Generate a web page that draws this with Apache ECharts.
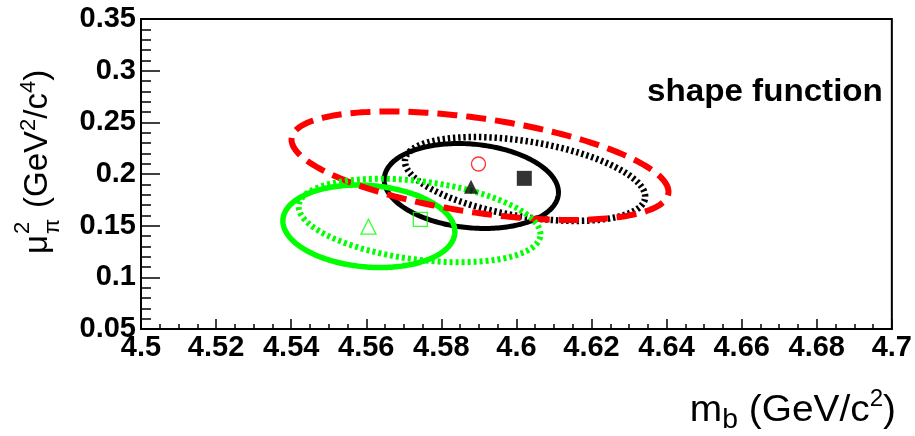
<!DOCTYPE html>
<html>
<head>
<meta charset="utf-8">
<script src="https://cdn.jsdelivr.net/npm/echarts@6.0.0/dist/echarts.min.js"></script>
<style>
html,body{margin:0;padding:0;background:#ffffff;}
#chart{width:915px;height:436px;}
</style>
</head>
<body>
<div id="chart"></div>
<script>
// ---------- data ----------
const xTickLabels = ['4.5','4.52','4.54','4.56','4.58','4.6','4.62','4.64','4.66','4.68','4.7'];
const yTickLabels = ['0.05','0.1','0.15','0.2','0.25','0.3','0.35'];

// error ellipses: centre, sigma_x, sigma_y, correlation
const ellipseNames   = ['red dashed', 'black solid', 'black dotted', 'green solid', 'green dotted'];
const ellipseCenterX = [4.5903, 4.5880, 4.6023, 4.5607, 4.5742];
const ellipseCenterY = [0.2080, 0.1884, 0.1952, 0.1494, 0.1550];
const ellipseSigmaX  = [0.0502, 0.0232, 0.0320, 0.0229, 0.0322];
const ellipseSigmaY  = [0.0525, 0.0411, 0.0406, 0.0399, 0.0404];
const ellipseRho     = [-0.48, -0.15, -0.42, -0.13, -0.33];

// central-value markers
const markerNames = ['red circle', 'black triangle', 'black square', 'green triangle', 'green square'];
const markerX = [4.5899, 4.5879, 4.6021, 4.5606, 4.5744];
const markerY = [0.2097, 0.1877, 0.1958, 0.1490, 0.1561];

// ---------- styles ----------
const ellipseColor = ['#ff0000', '#000000', '#000000', '#00ff00', '#00ff00'];
const ellipseWidth = [6, 5, 6.5, 5.5, 6];
const ellipseDash  = [[20, 9], null, [2.4, 2.8], null, [3, 3]];
const ellipseOrder = [1, 2, 3, 0, 4]; // drawing order indices

const markerSymbol = ['circle', 'triangle', 'rect', 'triangle', 'rect'];
const markerSize   = [14, 14, 15, 15, 14];
const markerFilled = [false, true, true, false, false];
const markerColor  = ['#ff0000', '#000000', '#000000', '#00ff00', '#00ff00'];

const FONT = '"Liberation Sans", Arial, Helvetica, sans-serif';

function fmt(v) {
  return String(parseFloat(Number(v).toFixed(3)));
}

const series = [];
ellipseOrder.forEach(function (i) {
  series.push({
    type: 'custom',
    name: ellipseNames[i],
    silent: true,
    animation: false,
    clip: false,
    data: [[ellipseCenterX[i], ellipseCenterY[i], ellipseSigmaX[i], ellipseSigmaY[i], ellipseRho[i]]],
    encode: { x: 0, y: 1 },
    renderItem: function (params, api) {
      const cx = api.value(0), cy = api.value(1), sx = api.value(2), sy = api.value(3), r = api.value(4);
      const c = Math.sqrt(1 - r * r);
      const pts = [];
      const N = 240;
      for (let k = 0; k < N; k++) {
        const t = 2 * Math.PI * k / N;
        pts.push(api.coord([cx + sx * Math.cos(t), cy + sy * (r * Math.cos(t) + c * Math.sin(t))]));
      }
      return {
        type: 'polygon',
        shape: { points: pts },
        style: {
          fill: 'none',
          stroke: ellipseColor[i],
          lineWidth: ellipseWidth[i],
          lineDash: ellipseDash[i] || null,
          lineCap: 'butt'
        }
      };
    }
  });
});

markerX.forEach(function (x, i) {
  series.push({
    type: 'scatter',
    name: markerNames[i],
    silent: true,
    animation: false,
    symbol: markerSymbol[i],
    symbolSize: markerSize[i],
    z: 5,
    itemStyle: markerFilled[i]
      ? { color: markerColor[i] }
      : { color: 'rgba(0,0,0,0)', borderColor: markerColor[i], borderWidth: 1.3 },
    data: [[x, markerY[i]]]
  });
});

const axisCommon = {
  type: 'value',
  axisLine: { show: true, onZero: false, lineStyle: { color: '#000', width: 2 } },
  splitLine: { show: false },
  axisLabel: {
    color: '#000', fontFamily: FONT, fontWeight: 'bold', fontSize: 29,
    showMinLabel: true, showMaxLabel: true, hideOverlap: false
  }
};

const option = {
  backgroundColor: '#ffffff',
  animation: false,
  grid: { left: 141, right: 22, top: 19, bottom: 107, show: true, borderColor: '#000', borderWidth: 2, backgroundColor: 'transparent' },
  xAxis: Object.assign({}, axisCommon, {
    min: 4.5, max: 4.7, interval: 0.02,
    axisTick: { show: true, inside: true, length: 10, lineStyle: { color: '#000', width: 1.5 } },
    minorTick: { show: true, splitNumber: 4, length: 5, lineStyle: { color: '#000', width: 1.5 } },
    axisLabel: Object.assign({}, axisCommon.axisLabel, {
      margin: 4,
      formatter: function (v) { const s = fmt(v); return xTickLabels.indexOf(s) >= 0 ? s : ''; }
    })
  }),
  yAxis: Object.assign({}, axisCommon, {
    min: 0.05, max: 0.35, interval: 0.05,
    axisTick: { show: true, inside: true, length: 19, lineStyle: { color: '#000', width: 1.5 } },
    minorTick: { show: true, splitNumber: 5, length: 10, lineStyle: { color: '#000', width: 1.5 } },
    axisLabel: Object.assign({}, axisCommon.axisLabel, {
      margin: 5,
      formatter: function (v) { const s = fmt(v); return yTickLabels.indexOf(s) >= 0 ? s : ''; }
    })
  }),
  graphic: [
    {
      type: 'text', x: 647, y: 92, scaleX: 1.07, silent: true,
      style: { text: 'shape function', fill: '#000', font: 'bold 31px ' + FONT, align: 'left', verticalAlign: 'middle' }
    },
    {
      type: 'text', silent: true, x: 896, y: 411, scaleX: 1.05,
      style: {
        text: '{m|m}{sub|b}{t| (GeV/c}{sup|2}{t|)}',
        align: 'right', verticalAlign: 'middle',
        rich: {
          m:   { fontFamily: FONT, fontSize: 37, lineHeight: 46, fill: '#000', color: '#000' },
          t:   { fontFamily: FONT, fontSize: 37, lineHeight: 46, fill: '#000', color: '#000' },
          sub: { fontFamily: FONT, fontSize: 27, lineHeight: 27, verticalAlign: 'bottom', fill: '#000', color: '#000' },
          sup: { fontFamily: FONT, fontSize: 23, lineHeight: 23, verticalAlign: 'top', fill: '#000', color: '#000' }
        }
      }
    },
    {
      type: 'group', x: 49, y: 254, rotation: Math.PI / 2, silent: true,
      children: [
        { type: 'text', x: 0, y: -11, style: { text: 'μ', fill: '#000', font: '33px ' + FONT, align: 'left', verticalAlign: 'middle' } },
        { type: 'text', x: 20, y: -26, style: { text: '2', fill: '#000', font: '22px ' + FONT, align: 'left', verticalAlign: 'middle' } },
        { type: 'text', x: 20, y: 4, style: { text: 'π', fill: '#000', font: '22px ' + FONT, align: 'left', verticalAlign: 'middle' } },
        {
          type: 'text', x: 46, y: -11,
          style: {
            text: '{t|(GeV}{sup|2}{t|/c}{sup|4}{t|)}',
            align: 'left', verticalAlign: 'middle',
            rich: {
              t:   { fontFamily: FONT, fontSize: 33, lineHeight: 41, fill: '#000', color: '#000' },
              sup: { fontFamily: FONT, fontSize: 22, lineHeight: 22, verticalAlign: 'top', fill: '#000', color: '#000' }
            }
          }
        }
      ]
    }
  ],
  series: series
};

const chart = echarts.init(document.getElementById('chart'), null, { renderer: 'canvas' });
chart.setOption(option);
</script>
</body>
</html>
